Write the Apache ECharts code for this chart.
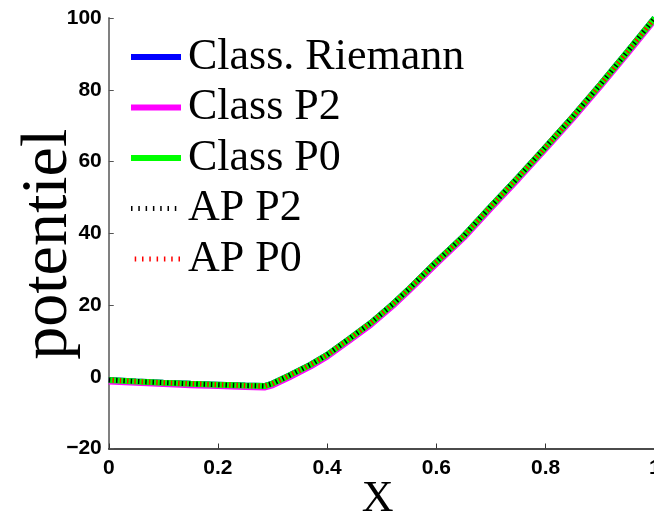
<!DOCTYPE html>
<html>
<head>
<meta charset="utf-8">
<script src="https://cdn.jsdelivr.net/npm/echarts@6/dist/echarts.min.js"></script>
<style>
html,body{margin:0;padding:0;background:#fff;}
#c{width:654px;height:517px;}
</style>
</head>
<body>
<div id="c"></div>
<script>
// ---- data ----
var xValues = [0, 0.05, 0.1, 0.15, 0.2, 0.25, 0.285, 0.3, 0.33, 0.37, 0.4, 0.44, 0.48, 0.52, 0.55, 0.6, 0.65, 0.7, 0.75, 0.8, 0.85, 0.9, 0.95, 1.0];
var classRiemann = [-0.9, -1.3, -1.65, -1.95, -2.2, -2.45, -2.6, -1.9, 0.3, 3.4, 6.1, 10.5, 15.0, 20.2, 24.5, 32.0, 39.2, 47.5, 55.6, 64.0, 72.5, 81.4, 90.6, 100];
var classP2      = [-1.3, -1.7, -2.05, -2.35, -2.6, -2.85, -3.0, -2.4, -0.2, 2.9, 5.6, 10.0, 14.5, 19.7, 24.0, 31.5, 38.7, 47.0, 55.1, 63.5, 72.0, 80.9, 90.1, 99.5];
var classP0      = [-0.9, -1.3, -1.65, -1.95, -2.2, -2.45, -2.6, -1.9, 0.3, 3.4, 6.1, 10.5, 15.0, 20.2, 24.5, 32.0, 39.2, 47.5, 55.6, 64.0, 72.5, 81.4, 90.6, 100];
var apP2         = [-0.9, -1.3, -1.65, -1.95, -2.2, -2.45, -2.6, -1.9, 0.3, 3.4, 6.1, 10.5, 15.0, 20.2, 24.5, 32.0, 39.2, 47.5, 55.6, 64.0, 72.5, 81.4, 90.6, 100];
var apP0         = [-0.9, -1.3, -1.65, -1.95, -2.2, -2.45, -2.6, -1.9, 0.3, 3.4, 6.1, 10.5, 15.0, 20.2, 24.5, 32.0, 39.2, 47.5, 55.6, 64.0, 72.5, 81.4, 90.6, 100];
var seriesNames = ['Class. Riemann', 'Class P2', 'Class P0', 'AP P2', 'AP P0'];
var xTickLabels = {0: '0', 0.2: '0.2', 0.4: '0.4', 0.6: '0.6', 0.8: '0.8', 1: '1'};

function pairs(ys) { return xValues.map(function (x, i) { return [x, ys[i]]; }); }

var chart = echarts.init(document.getElementById('c'), null, {renderer: 'canvas'});
var tickFont = {fontFamily: 'Liberation Sans', fontWeight: 'bold', fontSize: 21, color: '#000'};

chart.setOption({
  animation: false,
  backgroundColor: '#fff',
  grid: {left: 108.75, top: 18, width: 546, height: 430.5, containLabel: false, outerBoundsMode: 'none'},
  legend: {
    orient: 'vertical',
    left: 128,
    top: 32,
    padding: 0,
    itemWidth: 50,
    itemHeight: 10,
    itemGap: 0.5,
    itemStyle: {opacity: 0},
    lineStyle: {width: 'inherit', type: 'inherit'},
    textStyle: {fontFamily: 'Liberation Serif', fontSize: 44, lineHeight: 50, color: '#000', padding: [0, 0, 0, 2]},
    data: seriesNames
  },
  xAxis: {
    type: 'value', min: 0, max: 1, interval: 0.2,
    name: 'X', nameLocation: 'middle', nameGap: 29, nameMoveOverlap: false,
    nameTextStyle: {fontFamily: 'Liberation Serif', fontSize: 44, color: '#000', padding: [0, 8, 0, 0]},
    axisLine: {show: true, onZero: false, lineStyle: {color: '#111', width: 1.5}},
    axisTick: {show: true, inside: true, length: 5, lineStyle: {color: '#333', width: 1}},
    axisLabel: Object.assign({margin: 9, formatter: function (v) { return xTickLabels[+v.toFixed(1)] || ''; }, showMaxLabel: true}, tickFont),
    splitLine: {show: false}
  },
  yAxis: {
    type: 'value', min: -20, max: 100, interval: 20,
    name: 'potentiel', nameLocation: 'middle', nameGap: 27, nameRotate: 90, nameMoveOverlap: false,
    nameTextStyle: {fontFamily: 'Liberation Serif', fontSize: 66, color: '#000', padding: [0, 22, 0, 0]},
    axisLine: {show: true, onZero: false, lineStyle: {color: '#808080', width: 2}},
    axisTick: {show: true, inside: true, length: 5, lineStyle: {color: '#555', width: 1}},
    axisLabel: Object.assign({margin: 7, formatter: function (v) { return String(v).replace('-', '\u2212'); }}, tickFont),
    splitLine: {show: false}
  },
  series: [
    {name: seriesNames[0], type: 'line', data: pairs(classRiemann), symbol: 'none', color: '#0000ff', lineStyle: {color: '#0000ff', width: 6}},
    {name: seriesNames[1], type: 'line', data: pairs(classP2), symbol: 'none', color: '#ff00ff', lineStyle: {color: '#ff00ff', width: 6}},
    {name: seriesNames[2], type: 'line', data: pairs(classP0), symbol: 'none', color: '#00ff00', lineStyle: {color: '#00ff00', width: 6}},
    {name: seriesNames[3], type: 'line', data: pairs(apP2), symbol: 'none', color: '#000000', lineStyle: {color: '#000000', width: 5, type: [1.5, 5.8], dashOffset: 0}},
    {name: seriesNames[4], type: 'line', data: pairs(apP0), symbol: 'none', color: '#ff0000', lineStyle: {color: '#ff0000', width: 5, type: [1.5, 5.8], dashOffset: 3.6}}
  ]
});
</script>
</body>
</html>
